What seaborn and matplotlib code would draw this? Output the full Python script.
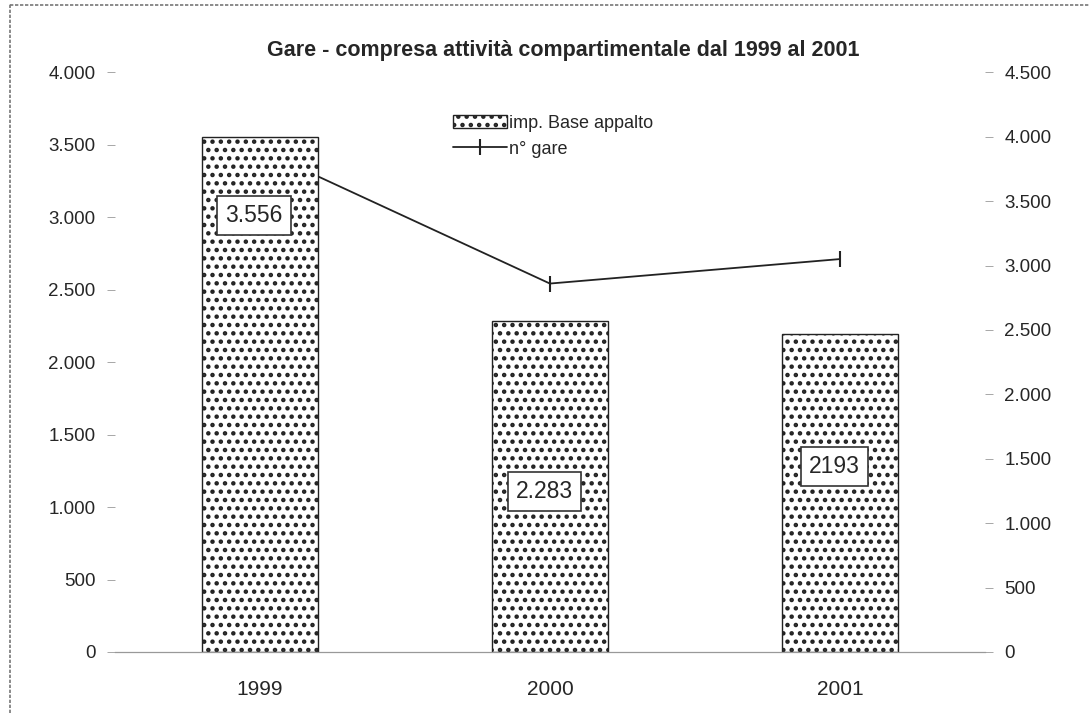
import matplotlib
matplotlib.use("Agg")
import matplotlib.pyplot as plt
import seaborn as sns
import pandas as pd
from matplotlib.lines import Line2D
from matplotlib.ticker import FuncFormatter

# ---------- DATA ----------
anni = ["1999", "2000", "2001"]
imp_base_appalto = [3556, 2283, 2193]
n_gare = [3900, 2860, 3050]
etichette = ["3.556", "2.283", "2193"]
etichette_y = [3010, 1110, 1280]

df = pd.DataFrame({"anno": anni, "imp": imp_base_appalto, "gare": n_gare})

# ---------- STYLE ----------
sns.set_style("white")
plt.rcParams["font.family"] = ["Liberation Sans", "DejaVu Sans"]
plt.rcParams["hatch.linewidth"] = 2.0

fmt = FuncFormatter(lambda v, p: f"{v:,.0f}".replace(",", "."))

fig = plt.figure(figsize=(10.9, 7.13), dpi=100)
ax = fig.add_axes([0.1055, 0.0856, 0.798, 0.813])
ax2 = ax.twinx()

# bars
sns.barplot(data=df, x="anno", y="imp", ax=ax, width=0.4, color="white",
            edgecolor="#222222", linewidth=1.0, label="imp. Base appalto")
for bar in ax.patches:
    bar.set_hatch("..")

# line (second axis, drawn behind the bars)
sns.lineplot(x=[0, 1, 2], y=df["gare"], ax=ax2, color="#222222", linewidth=1.3,
             marker="|", markersize=11, markeredgewidth=1.5,
             markeredgecolor="#222222", label="n° gare", legend=False)
ax.set_zorder(ax2.get_zorder() + 1)
ax.patch.set_visible(False)

# value labels
for i, (txt, yv) in enumerate(zip(etichette, etichette_y)):
    ax.text(i - 0.02, yv, txt, ha="center", va="center", fontsize=16.5,
            bbox=dict(boxstyle="square,pad=0.35", facecolor="white",
                      edgecolor="#333333", linewidth=1.2))

# axes
ax.set_ylim(0, 4000)
ax2.set_ylim(0, 4500)
ax.set_xlim(-0.5, 2.5)
ax.set_yticks(range(0, 4001, 500))
ax2.set_yticks(range(0, 4501, 500))
ax.yaxis.set_major_formatter(fmt)
ax2.yaxis.set_major_formatter(fmt)
ax.set_xlabel("")
ax.set_ylabel("")
ax2.set_ylabel("")

for a in (ax, ax2):
    for s in a.spines.values():
        s.set_visible(False)
    a.tick_params(axis="y", length=6, width=0.6, color="#999999",
                  labelsize=13.5, pad=8, direction="out")
ax.spines["bottom"].set_visible(True)
ax.spines["bottom"].set_color("#999999")
ax.spines["bottom"].set_linewidth(0.9)
ax.tick_params(axis="x", length=0, labelsize=15, pad=20)
ax.tick_params(axis="y", left=True)
ax2.tick_params(axis="y", right=True)

ax.set_title("Gare - compresa attività compartimentale dal 1999 al 2001",
             fontsize=15.5, fontweight="bold", pad=12, x=0.515)

# legend
h1, l1 = ax.get_legend_handles_labels()
h2, l2 = ax2.get_legend_handles_labels()
ax.legend(h1 + h2, l1 + l2, loc="upper left", bbox_to_anchor=(0.37, 0.955),
          frameon=False, fontsize=13, handlelength=3.0, handletextpad=0.1,
          labelspacing=0.5)

# chart frame (left and top edges of the scanned box)
fig.add_artist(Line2D([0.009, 0.009], [0.0, 0.995], transform=fig.transFigure,
                      color="#777777", linewidth=1.2, linestyle=(0, (2, 1))))
fig.add_artist(Line2D([0.009, 1.0], [0.993, 0.993], transform=fig.transFigure,
                      color="#777777", linewidth=1.2, linestyle=(0, (2, 1))))

plt.savefig("out.png", dpi=100)
plt.close()
